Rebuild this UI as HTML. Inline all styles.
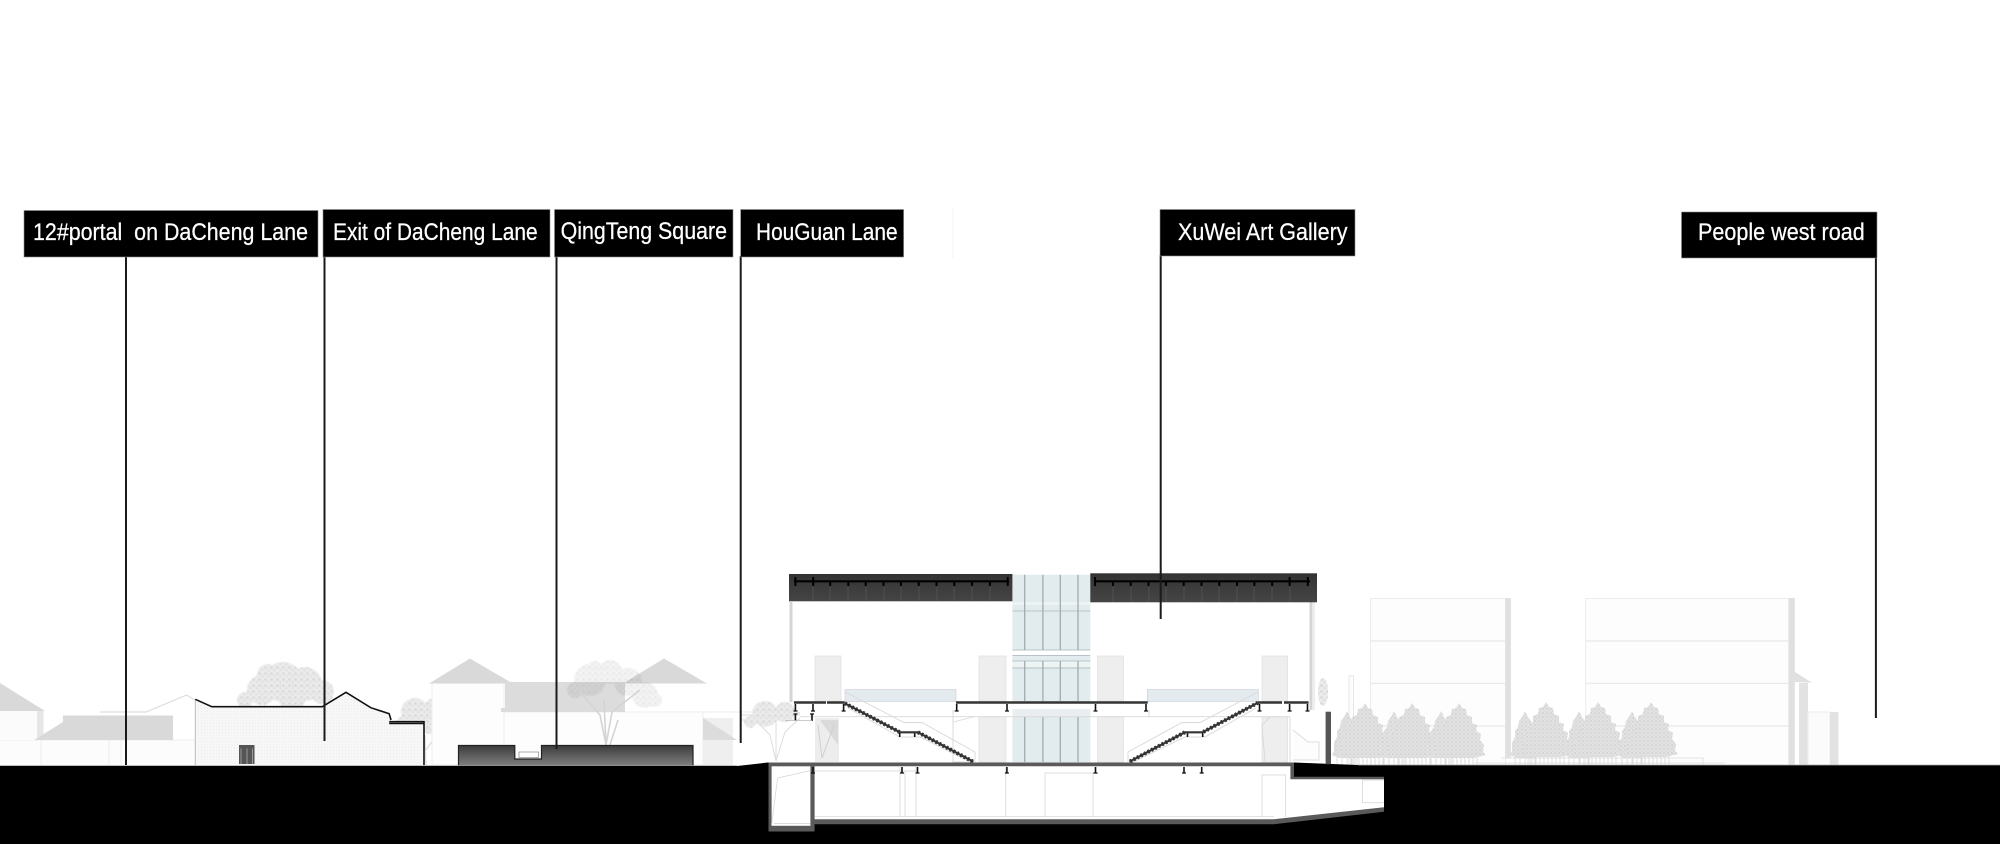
<!DOCTYPE html>
<html>
<head>
<meta charset="utf-8">
<style>
html,body{margin:0;padding:0;background:#fff;width:2000px;height:844px;overflow:hidden}
svg{display:block}
text{font-family:"Liberation Sans",sans-serif;font-size:24.5px;fill:#fff;stroke:#fff;stroke-width:0.25}
</style>
</head>
<body>
<svg xmlns="http://www.w3.org/2000/svg" width="2000" height="844" viewBox="0 0 2000 844">
<defs>
<linearGradient id="box" x1="0" y1="0" x2="0" y2="1"><stop offset="0" stop-color="#3c3c3c"/><stop offset="1" stop-color="#808080"/></linearGradient>
<linearGradient id="roof" x1="0" y1="0" x2="0" y2="1"><stop offset="0" stop-color="#333"/><stop offset="1" stop-color="#454545"/></linearGradient>
<pattern id="brick" width="3" height="3" patternUnits="userSpaceOnUse"><rect width="3" height="3" fill="#f7f7f7"/><rect width="1" height="1" fill="#ececec"/></pattern>
<pattern id="leaf" width="6" height="6" patternUnits="userSpaceOnUse"><rect width="6" height="6" fill="#ebebeb"/><circle cx="1.5" cy="1.5" r="1.3" fill="#d6d6d6"/><circle cx="4.5" cy="4" r="1.1" fill="#dcdcdc"/></pattern>
<pattern id="bleaf" width="4" height="4" patternUnits="userSpaceOnUse"><rect width="4" height="4" fill="#e2e2e2"/><circle cx="1" cy="1" r="1" fill="#d2d2d2"/><circle cx="3" cy="3" r="0.8" fill="#d6d6d6"/></pattern>
<filter id="soft" x="-10%" y="-10%" width="120%" height="120%"><feGaussianBlur stdDeviation="0.5"/></filter>
<g id="bam">
<path d="M-18 -10V0M-14 -12V0M-10 -12V0M-6 -12V0M-2 -12V0M2 -12V0M6 -12V0M10 -12V0M14 -10V0M18 -10V0" stroke="#dcdcdc" stroke-width="1" fill="none"/>
<polygon points="0,-62 3,-57 7,-56 8,-50 13,-48 13,-42 18,-40 17,-34 22,-31 21,-25 25,-20 24,-13 27,-10 15,-7 -15,-7 -27,-10 -24,-13 -25,-20 -21,-25 -22,-31 -17,-34 -18,-40 -13,-42 -13,-48 -8,-50 -7,-56 -3,-57" fill="url(#bleaf)"/>
</g>
<g id="bam2">
<path d="M-10 -10V0M-5 -12V0M0 -12V0M5 -12V0M10 -10V0" stroke="#dcdcdc" stroke-width="1" fill="none"/>
<polygon points="0,-54 3,-48 6,-44 7,-38 10,-34 10,-28 13,-22 13,-14 15,-10 8,-7 -8,-7 -15,-10 -13,-14 -13,-22 -10,-28 -10,-34 -7,-38 -6,-44 -3,-48" fill="url(#bleaf)"/>
</g>
</defs>

<!-- faint marks -->
<path d="M953 209V258" stroke="#f3f3f3" stroke-width="1"/>

<!-- left background houses -->
<rect x="0" y="740" width="195" height="25" fill="#fcfcfc"/>
<path d="M0 740H195M41 740V765M109 740V765M121 740V765" stroke="#eee" stroke-width="1" fill="none"/>
<rect x="0" y="710" width="38" height="30" fill="#fbfbfb"/>
<rect x="37" y="711" width="6.5" height="29" fill="#e6e6e6"/>
<polygon points="0,683 45,711 0,711" fill="#d9d9d9"/>
<polygon points="34,740 63,722 63,715.5 173,715.5 173,740" fill="#d9d9d9"/>
<path d="M100 712H146L186.6 695L195 700" stroke="#ddd" stroke-width="1.2" fill="none"/>

<!-- trees -->
<g fill="url(#leaf)" filter="url(#soft)">
<circle cx="283" cy="682" r="20"/><circle cx="262" cy="690" r="15"/><circle cx="305" cy="684" r="17"/><circle cx="322" cy="692" r="12"/><circle cx="245" cy="700" r="8"/><circle cx="268" cy="675" r="11"/><circle cx="292" cy="697" r="14"/>
</g>
<path d="M283 706L280 680M300 706L305 680M290 706L295 670M265 706L258 688" stroke="#e4e4e4" stroke-width="1" fill="none"/>
<g fill="url(#leaf)" filter="url(#soft)">
<circle cx="415" cy="712" r="14"/><circle cx="435" cy="710" r="12"/><circle cx="449" cy="722" r="11"/><circle cx="404" cy="724" r="8"/><circle cx="430" cy="725" r="9"/>
</g>
<path d="M426 765L425 735M425 750L415 730M426 750L440 730" stroke="#ddd" stroke-width="1.3" fill="none"/>

<!-- houses behind square -->
<rect x="432" y="683" width="72" height="82" fill="#fdfdfd" stroke="#eee"/>
<rect x="504" y="712" width="199" height="53" fill="#fdfdfd" stroke="#eee"/>
<polygon points="429,683.5 470,658.5 510,682 504,683.5" fill="#d9d9d9"/>
<polygon points="623,683.5 664,658.5 707,683.5" fill="#d9d9d9"/>
<rect x="505" y="682" width="120" height="28" fill="#dcdcdc"/>
<rect x="501" y="708" width="124" height="4" fill="#dcdcdc"/>
<g fill="url(#leaf)" opacity="0.6" style="mix-blend-mode:multiply" filter="url(#soft)">
<circle cx="590" cy="680" r="16"/><circle cx="610" cy="672" r="12"/><circle cx="628" cy="682" r="14"/><circle cx="645" cy="695" r="13"/><circle cx="655" cy="700" r="7"/><circle cx="575" cy="690" r="8"/><circle cx="595" cy="668" r="7"/>
</g>
<path d="M606 745L600 715L580 692M606 745L612 712L640 690M606 745L604 700M610 745L618 720" stroke="#d4d4d4" stroke-width="1.6" fill="none"/>

<!-- right of HouGuan -->
<rect x="703" y="718" width="30" height="47" fill="#efefef"/>
<polygon points="703,718 737,740 703,740" fill="#dcdcdc"/>
<path d="M703 712H760" stroke="#eee"/>
<g fill="none" stroke="#ddd" stroke-width="1">
<path d="M740 715H800M740 720H800"/>
<path d="M776 761L770 735L750 715M776 761L785 732L800 718M776 761L776 720"/>
</g>
<g fill="url(#leaf)" filter="url(#soft)"><circle cx="765" cy="714" r="13"/><circle cx="785" cy="712" r="10"/><circle cx="750" cy="722" r="6"/></g>
<rect x="815" y="718" width="24" height="44" fill="#ededed"/>
<polygon points="820,720 838,720 838,745" fill="#dadada"/>
<path d="M822 758L818 725M822 758L834 725" stroke="#cfcfcf" fill="none"/>

<!-- old house with roofline -->
<polygon points="195.3,699.3 211.8,706.7 322.3,706.7 346,692.3 370.8,707.7 389.2,713.7 391,720 389.2,721.7 424,721.7 424,765 195.3,765" fill="url(#brick)"/>
<path d="M195.3 765V699.3" stroke="#bbb" stroke-width="1" fill="none"/>
<path d="M195.3 699.3L211.8 706.7H322.3L346 692.3L370.8 707.7L389.2 713.7L391 720M389.2 721.7H424V765" stroke="#111" stroke-width="1.6" fill="none"/>
<path d="M389.2 723.5H424" stroke="#111" stroke-width="1.5" fill="none"/>
<rect x="239" y="745" width="15.5" height="19" fill="#555"/>
<path d="M241 748.5V764M247 748.5V764M252.5 748.5V764" stroke="#999" stroke-width="1" fill="none"/>

<!-- dark box -->
<polygon points="458.5,745.5 514.8,745.5 514.8,759 541.5,759 541.5,745.5 693,745.5 693,766 458.5,766" fill="url(#box)" stroke="#222" stroke-width="1.2"/>
<rect x="519" y="752" width="19.5" height="5.5" fill="#fff" stroke="#999" stroke-width="0.8"/>

<!-- right buildings -->
<g fill="#fdfdfd" stroke="#ececec" stroke-width="1">
<rect x="1370.5" y="598.5" width="135" height="166.5"/>
<rect x="1585.7" y="598.5" width="203" height="166.5"/>
</g>
<path d="M1370.5 641H1505M1370.5 683.3H1505M1370.5 726H1505M1585.7 641H1789M1585.7 683.3H1789M1585.7 726H1789" stroke="#e8e8e8" stroke-width="1.2" fill="none"/>
<rect x="1505.4" y="598" width="5.5" height="160" fill="#e0e0e0"/>
<rect x="1788.8" y="598" width="6" height="167" fill="#e0e0e0"/>
<polygon points="1794.6,671.7 1812,682.7 1794.6,682" fill="#e0e0e0"/>
<rect x="1799" y="683" width="9" height="82" fill="#e2e2e2"/>
<rect x="1808" y="712" width="22" height="53" fill="#fbfbfb" stroke="#eee"/>
<rect x="1830" y="712" width="8.4" height="53" fill="#e2e2e2"/>
<path d="M1501 758H1703V765M1475 763H1725" stroke="#e2e2e2" fill="none"/>

<!-- side sketches near main building -->
<rect x="1349" y="676" width="4.5" height="89" fill="#fdfdfd" stroke="#e6e6e6"/>
<g fill="url(#leaf)"><ellipse cx="1323" cy="692" rx="5" ry="14"/></g>
<path d="M1293 730L1308 742H1319V760H1293" stroke="#ddd" fill="#fdfdfd"/>

<!-- bamboo -->
<use href="#bam2" x="1347" y="765"/><use href="#bam" x="1365" y="765"/><use href="#bam2" x="1394" y="765"/><use href="#bam" x="1412" y="765"/><use href="#bam2" x="1441" y="765"/><use href="#bam" x="1459" y="765"/>
<use href="#bam2" x="1525" y="765"/><use href="#bam" x="1546" y="764"/><use href="#bam2" x="1579" y="765"/><use href="#bam" x="1598" y="764"/><use href="#bam2" x="1632" y="765"/><use href="#bam" x="1651" y="764"/>

<!-- main building: column boxes -->
<g fill="#eeeeee" stroke="#e2e2e2" stroke-width="0.8">
<rect x="815" y="656" width="26" height="45"/>
<rect x="979" y="656" width="27" height="45"/>
<rect x="1097.5" y="656" width="26" height="45"/>
<rect x="1262" y="656" width="25.6" height="45"/>
<rect x="979" y="717" width="27" height="45"/>
<rect x="1097.5" y="717" width="26" height="45"/>
<rect x="1262" y="717" width="25.6" height="45"/>
</g>

<!-- envelope -->
<path d="M791 602V702M1311 602V710" stroke="#d4d4d4" stroke-width="3" fill="none"/>
<path d="M1314 602V710" stroke="#ddd" stroke-width="1" fill="none"/>

<!-- glass core -->
<rect x="1012.4" y="574.7" width="77.9" height="187.6" fill="#e2ebee"/>
<rect x="1012.4" y="602" width="77.9" height="3" fill="#eef3f4"/>
<rect x="1012.4" y="650" width="77.9" height="5.5" fill="#fff"/>
<rect x="1012.4" y="661" width="77.9" height="6" fill="#eef3f4"/>
<rect x="1012.4" y="702" width="77.9" height="7" fill="#fff"/>
<rect x="1012.4" y="709" width="77.9" height="8" fill="#e9eff1"/>
<path d="M1012.4 611H1090.3M1012.4 650H1090.3M1012.4 655.5H1090.3M1012.4 661H1090.3M1012.4 668H1090.3" stroke="#b8c4c7" stroke-width="0.9" fill="none"/>
<path d="M1024.7 574.7V650M1042.9 574.7V650M1060.3 574.7V650M1078 574.7V650M1024.7 661V701M1042.9 661V701M1060.3 661V701M1078 661V701M1024.7 717V762M1042.9 717V762M1060.3 717V762M1078 717V762" stroke="#9aa7ab" stroke-width="1.2" fill="none"/>

<!-- glass panels above stairs -->
<rect x="845" y="689.5" width="111" height="12" fill="#e4ebee" stroke="#ccd" stroke-width="0.6"/>
<rect x="1147.3" y="689.5" width="111" height="12" fill="#e4ebee" stroke="#ccd" stroke-width="0.6"/>

<!-- thin lines -->
<g fill="none" stroke="#d8d8d8" stroke-width="0.9">
<path d="M800 716.7H1290"/>
<path d="M845 692L904 722.5H922L975 752V762"/>
<path d="M1258 692L1200 722.5H1182L1128 752V762"/>
<path d="M848 708L900 737L920 737L970 762"/>
<path d="M1256 708L1205 737H1185L1133 762"/>
<path d="M953 710V717M1149 710V717"/>
<path d="M953 717V762L974 762M953 722L975 716.5"/>
<path d="M1270 717L1262 725L1265 762M1290 717V762"/>
</g>

<!-- roofs -->
<rect x="789" y="574" width="223.4" height="27.3" fill="url(#roof)"/>
<rect x="1090.3" y="573.3" width="226.7" height="29" fill="url(#roof)"/>
<path d="M813 587V601M830 587V601M848 587V601M866 587V601M884 587V601M901 587V601M919 587V601M937 587V601M954 587V601M972 587V601M990 587V601M1113 587V602M1131 587V602M1149 587V602M1166 587V602M1184 587V602M1202 587V602M1219 587V602M1237 587V602M1254 587V602M1272 587V602M1290 587V602" stroke="#555" stroke-width="0.8" fill="none"/>
<path d="M794 581.3H1009M1094 581.3H1310" stroke="#000" stroke-width="2.2" fill="none"/>
<path d="M795.4 577V586M813.2 577V586M830.2 581V586M848.3 581V586M865.7 581V586M883.5 581V586M900.9 581V586M918.7 581V586M936.5 581V586M954.3 581V586M972.1 581V586M989.9 581V586M1007.7 577V586M1095 577V586M1112.9 581V586M1130.7 581V586M1148.5 581V586M1165.9 581V586M1183.7 581V586M1201.5 581V586M1219.3 581V586M1237 581V586M1254.4 581V586M1272.2 581V586M1289.6 577V586M1307.8 577V586" stroke="#000" stroke-width="2" fill="none"/>

<!-- floors -->
<path d="M794 702.5H826M827 702.5H844.8M956 702.5H1147.7M1258 702.5H1282M1284 702.5H1308.6" stroke="#333" stroke-width="2.6" fill="none"/>
<path d="M795.4 704V711M813 704V711M843.6 704V711M956.7 704V711M1007 704V711M1095.5 704V711M1146 704V711M1259.5 704V711M1289.6 704V711M1307.5 704V711M795.4 714V721M812 714V721M899.7 733V737M914.7 733V737M1187.5 733V737M1202.7 733V737" stroke="#111" stroke-width="1.6" fill="none"/>
<path d="M793.5 711h4M811 711h4M841.6 711h4M954.7 711h4M1005 711h4M1093.5 711h4M1144 711h4M1257.5 711h4M1287.6 711h4M1305.5 711h4M793.5 714h4M810 714h4" stroke="#111" stroke-width="1.2" fill="none"/>
<path d="M795 713H800M785 720.5H812" stroke="#bbb" stroke-width="0.8" fill="none"/>

<!-- stairs -->
<path d="M844.8 703.3L900 732.3H918L973.3 761.7" stroke="#333" stroke-width="2.2" fill="none"/>
<path d="M1258 702.7L1202.6 732.3H1184.8L1129.5 761.7" stroke="#333" stroke-width="2.2" fill="none"/>
<path d="M844.8 703.3L900 732.3M918 732.3L973.3 761.7M1258 702.7L1202.6 732.3M1184.8 732.3L1129.5 761.7" stroke="#333" stroke-width="4" stroke-dasharray="2 2" fill="none"/>

<!-- ground -->
<polygon points="0,766 737,766 768,762.5 1294,762.5 1358,765 2000,765 2000,844 0,844" fill="#000"/>
<path d="M0 765.5H737M1358 765H2000" stroke="#aaa" stroke-width="0.8" fill="none"/>
<rect x="1325.6" y="711.7" width="5.4" height="52.5" fill="#555"/>

<!-- basement -->
<polygon points="768.5,762.5 1294,762.5 1294,776.7 1384,776.7 1384,811.7 1273.8,824.3 814.6,824.3 814.6,831.5 768.5,831.5" fill="#5a5a5a"/>
<rect x="771.6" y="766.3" width="38.8" height="59.5" fill="#fff"/>
<polygon points="814.6,766.3 1290.4,766.3 1290.4,779.3 1384,779.3 1384,807.3 1273.8,819.3 814.6,819.3" fill="#fff"/>
<g fill="none" stroke="#dcdcdc" stroke-width="0.9">
<path d="M771.6 825L777.6 778L810 770.7M774 823.5H810"/>
<path d="M815 771H916M900 767V817M905 771V817M916 767V817M1005.7 767V817"/>
<path d="M815 816.7H1274M1045 817V773H1093V817M1262 817V775H1285.6V817"/>
<path d="M1384 780H1362.5V802.7H1384"/>
</g>
<path d="M813 767V773M902 767V773M917.5 767V773M1006.9 767V773M1095.5 767V773M1184 767V773M1201.7 767V773" stroke="#111" stroke-width="1.6" fill="none"/>
<path d="M811 773h4M900 773h4M915.5 773h4M1004.9 773h4M1093.5 773h4M1182 773h4M1199.7 773h4" stroke="#111" stroke-width="1.2" fill="none"/>

<!-- leaders -->
<g stroke="#1a1a1a" stroke-width="2" fill="none">
<path d="M126 256V765"/>
<path d="M324.5 256V741"/>
<path d="M556.5 256V749"/>
<path d="M740.7 256V743"/>
<path d="M1160.7 255V619"/>
<path d="M1875.9 257V718"/>
</g>

<!-- labels -->
<g fill="#000" stroke="#8a8a8a" stroke-width="0.6">
<rect x="24" y="210.5" width="294" height="46.5"/>
<rect x="323" y="209.5" width="227" height="47.5"/>
<rect x="554.5" y="209.5" width="178.5" height="47.5"/>
<rect x="740.6" y="209.5" width="163" height="47.5"/>
<rect x="1160" y="209.5" width="195" height="46.5"/>
<rect x="1681.5" y="212" width="195.5" height="46"/>
</g>
<text x="33" y="240" textLength="275" lengthAdjust="spacingAndGlyphs" xml:space="preserve">12#portal  on DaCheng Lane</text>
<text x="333" y="240" textLength="204.6" lengthAdjust="spacingAndGlyphs">Exit of DaCheng Lane</text>
<text x="560.6" y="239" textLength="166.4" lengthAdjust="spacingAndGlyphs">QingTeng Square</text>
<text x="756" y="240" textLength="141.6" lengthAdjust="spacingAndGlyphs">HouGuan Lane</text>
<text x="1178" y="240" textLength="169.5" lengthAdjust="spacingAndGlyphs">XuWei Art Gallery</text>
<text x="1698" y="240" textLength="166.7" lengthAdjust="spacingAndGlyphs">People west road</text>
</svg>
</body>
</html>
